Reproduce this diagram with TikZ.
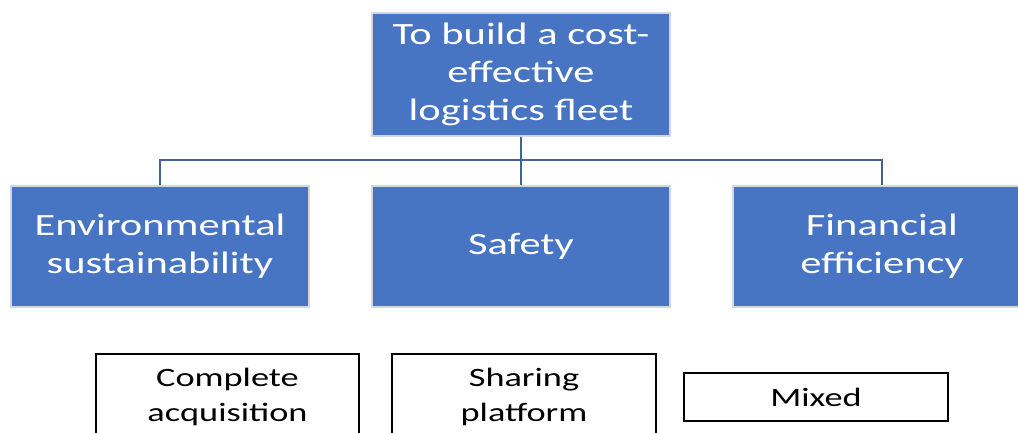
\documentclass[tikz,border=0pt]{standalone}
\usepackage{fontspec}
\setmainfont{Carlito}[FakeStretch=1.37]
\definecolor{boxblue}{RGB}{72,116,196}
\definecolor{boxedge}{RGB}{210,214,222}
\definecolor{linkblue}{RGB}{68,98,150}
\begin{document}
\begin{tikzpicture}[x=1pt,y=-1pt,
  goal/.style={rectangle,fill=boxblue,draw=boxedge,line width=1.2pt,
    text=white,align=center,inner sep=0pt,
    font=\fontsize{31}{38}\selectfont},
  option/.style={rectangle,fill=white,draw=black,line width=1.2pt,
    text=black,align=center,inner sep=0pt,
    font=\fontsize{26.5}{35}\selectfont},
  link/.style={draw=linkblue,line width=1.4pt}]
\useasboundingbox (0,0) rectangle (1018,432);
\clip (0,0) rectangle (1018,432);
% objective at the top
\node[goal,minimum width=298pt,minimum height=123pt] (top) at (521,74.5)
  {To build a cost-\\effective\\logistics fleet};
% three criteria
\node[goal,minimum width=298pt,minimum height=121pt] (env) at (160,246.5)
  {Environmental\\sustainability};
\node[goal,minimum width=298pt,minimum height=121pt] (saf) at (521,246.5)
  {Safety};
\node[goal,minimum width=298pt,minimum height=121pt] (fin) at (882,246.5)
  {Financial\\efficiency};
% branch connectors
\coordinate (bus) at (521,160);
\draw[link] (top.south) -- (saf.north);
\draw[link] (env.north) |- (bus) -| (fin.north);
% alternatives
\node[option,minimum width=263pt,minimum height=86pt] (acq) at (227.5,397)
  {Complete\\acquisition};
\node[option,minimum width=264pt,minimum height=86pt] (share) at (524,397)
  {Sharing\\platform};
\node[option,minimum width=264pt,minimum height=48pt] (mix) at (816,397)
  {Mixed};
\end{tikzpicture}
\end{document}
